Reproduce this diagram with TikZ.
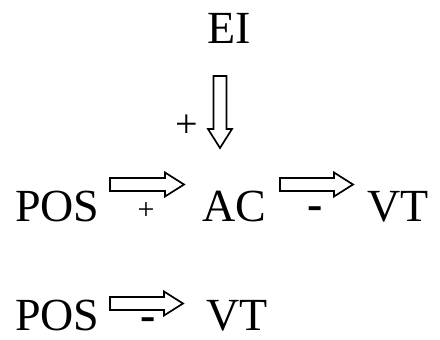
\documentclass[tikz,border=0pt]{standalone}
\usepackage{fontspec}
\setmainfont{Liberation Serif}
\usetikzlibrary{calc}
\tikzset{
  lbl/.style={inner sep=0pt, font=\fontsize{46}{50}\selectfont},
  plus/.style={inner sep=0pt, font=\fontsize{30}{32}\selectfont},
  bigplus/.style={inner sep=0pt, font=\fontsize{40}{42}\selectfont},
  minus/.style={inner sep=0pt, anchor=base, font=\fontsize{46}{50}\selectfont\bfseries},
  fat/.style={line width=1.7pt, line join=miter, to path={
    ($(\tikztostart)!6.5pt!90:(\tikztotarget)$)
    -- ($($(\tikztotarget)!19pt!(\tikztostart)$)!6.5pt!90:(\tikztotarget)$)
    -- ($($(\tikztotarget)!19pt!(\tikztostart)$)!12pt!90:(\tikztotarget)$)
    -- (\tikztotarget)
    -- ($($(\tikztotarget)!19pt!(\tikztostart)$)!12pt!-90:(\tikztotarget)$)
    -- ($($(\tikztotarget)!19pt!(\tikztostart)$)!6.5pt!-90:(\tikztotarget)$)
    -- ($(\tikztostart)!6.5pt!-90:(\tikztotarget)$) -- cycle}}
}
\begin{document}
\begin{tikzpicture}[x=1pt,y=-1pt]
\useasboundingbox (0,0) rectangle (440,340);
% nodes
\node[lbl, anchor=base] (EI) at (229,43) {EI};
\node[lbl, anchor=base west] (POS1) at (15,221) {POS};
\node[lbl, anchor=base west] (AC) at (202,221) {AC};
\node[lbl, anchor=base west] (VT1) at (367,221) {VT};
\node[lbl, anchor=base west] (POS2) at (15,330) {POS};
\node[lbl, anchor=base west] (VT2) at (206,330) {VT};
% arrow ends
\coordinate (d1) at (220,76);
\coordinate (d2) at (220,148);
\coordinate (h1) at (110,184.5);
\coordinate (h2) at (184,184.5);
\coordinate (h3) at (280,184.5);
\coordinate (h4) at (353,184.5);
\coordinate (h5) at (110,303.5);
\coordinate (h6) at (183,303.5);
% arrows
\draw[fat] (d1) to (d2);
\draw[fat] (h1) to (h2);
\draw[fat] (h3) to (h4);
\draw[fat] (h5) to (h6);
% signs
\node[bigplus] (s1) at (186.5,126.5) {+};
\node[plus] (s2) at (146,211) {+};
\node[minus] (s3) at (315,219.5) {-};
\node[minus] (s4) at (148,330) {-};
\end{tikzpicture}
\end{document}
